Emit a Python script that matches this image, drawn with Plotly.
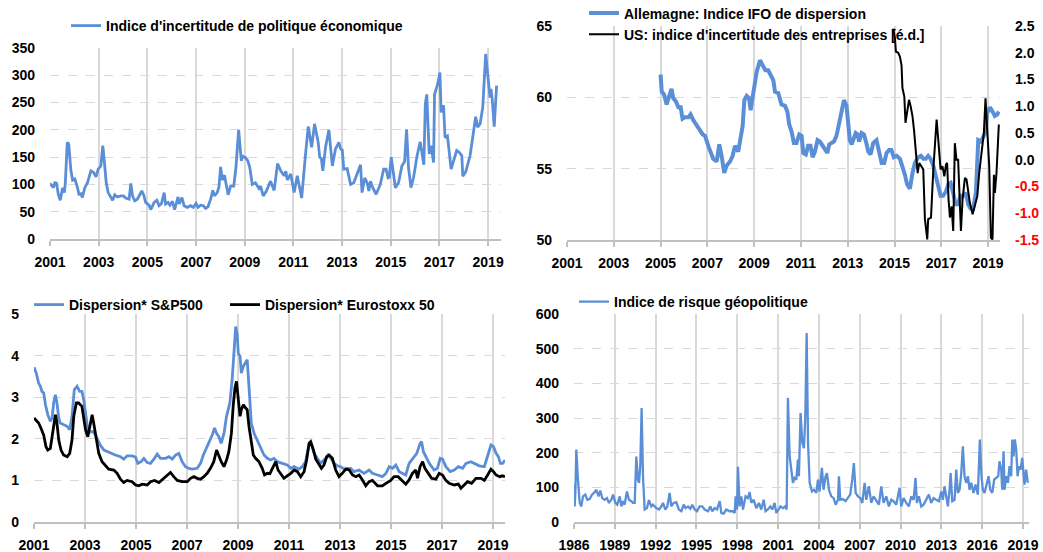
import plotly.graph_objects as go

# ---------------- data ----------------
# Panel 1: Indice d'incertitude de politique économique
epu_year = [2001.00, 2001.07, 2001.14, 2001.20, 2001.27, 2001.34, 2001.42, 2001.52, 2001.59, 2001.63,
            2001.71, 2001.77, 2001.86, 2001.93, 2002.02, 2002.13, 2002.19, 2002.27, 2002.33, 2002.43,
            2002.54, 2002.68, 2002.79, 2002.89, 2002.98, 2003.09, 2003.17, 2003.23, 2003.31, 2003.39,
            2003.50, 2003.57, 2003.66, 2003.77, 2003.91, 2004.02, 2004.11, 2004.25, 2004.32, 2004.39,
            2004.48, 2004.59, 2004.77, 2004.84, 2004.93, 2005.07, 2005.14, 2005.28, 2005.39, 2005.48,
            2005.58, 2005.69, 2005.75, 2005.85, 2005.93, 2006.03, 2006.12, 2006.26, 2006.31, 2006.42,
            2006.51, 2006.64, 2006.78, 2006.89, 2007.00, 2007.08, 2007.19, 2007.30, 2007.39, 2007.49,
            2007.60, 2007.69, 2007.76, 2007.87, 2007.94, 2008.01, 2008.08, 2008.17, 2008.24, 2008.32,
            2008.42, 2008.55, 2008.64, 2008.75, 2008.86, 2008.91, 2009.03, 2009.13, 2009.21, 2009.31,
            2009.44, 2009.58, 2009.65, 2009.76, 2009.89, 2010.06, 2010.21, 2010.35, 2010.48, 2010.62,
            2010.69, 2010.75, 2010.89, 2011.03, 2011.16, 2011.34, 2011.50, 2011.61, 2011.75, 2011.87,
            2012.02, 2012.08, 2012.15, 2012.21, 2012.32, 2012.46, 2012.60, 2012.73, 2012.87, 2012.94,
            2013.01, 2013.07, 2013.21, 2013.35, 2013.48, 2013.62, 2013.76, 2013.82, 2013.93, 2014.03,
            2014.10, 2014.17, 2014.26, 2014.40, 2014.57, 2014.71, 2014.81, 2014.89, 2014.94, 2015.02,
            2015.12, 2015.19, 2015.32, 2015.46, 2015.57, 2015.65, 2015.73, 2015.83, 2015.94, 2016.08,
            2016.21, 2016.31, 2016.36, 2016.42, 2016.48, 2016.58, 2016.66, 2016.76, 2016.80, 2016.93,
            2017.02, 2017.07, 2017.17, 2017.23, 2017.33, 2017.48, 2017.58, 2017.71, 2017.81, 2017.92,
            2017.96, 2018.08, 2018.26, 2018.39, 2018.49, 2018.57, 2018.67, 2018.78, 2018.90, 2019.01,
            2019.08, 2019.12, 2019.17, 2019.25, 2019.35]
epu_value = [102, 97, 94, 103, 102, 82, 71, 94, 85, 103,
             177, 174, 125, 108, 110, 94, 82, 83, 76, 94,
             103, 125, 122, 114, 128, 134, 171, 143, 103, 85,
             76, 71, 81, 77, 79, 79, 75, 73, 102, 79,
             70, 73, 88, 82, 67, 62, 54, 67, 71, 61,
             65, 85, 64, 67, 62, 69, 54, 77, 64, 76,
             61, 58, 61, 58, 65, 58, 62, 61, 56, 59,
             73, 89, 79, 85, 95, 132, 108, 117, 100, 81,
             97, 97, 131, 200, 143, 152, 149, 143, 131, 100,
             103, 93, 97, 79, 88, 106, 89, 138, 125, 116,
             124, 108, 119, 85, 116, 75, 156, 206, 168, 211,
             177, 150, 147, 125, 168, 200, 134, 165, 177, 165,
             163, 128, 129, 100, 103, 119, 136, 85, 112, 103,
             88, 106, 94, 82, 100, 128, 128, 112, 113, 150,
             113, 94, 103, 134, 142, 201, 131, 94, 113, 152,
             178, 147, 136, 247, 265, 156, 171, 140, 265, 284,
             305, 232, 245, 186, 189, 128, 144, 162, 159, 153,
             115, 123, 153, 192, 224, 205, 211, 241, 339, 290,
             259, 275, 256, 206, 281]

# Panel 2: Allemagne IFO dispersion (axe gauche)
ifo_year = [2005.00, 2005.05, 2005.15, 2005.26, 2005.37, 2005.47, 2005.54, 2005.66, 2005.76, 2005.86,
            2005.94, 2006.04, 2006.19, 2006.28, 2006.40, 2006.54, 2006.68, 2006.80, 2006.90, 2007.04,
            2007.14, 2007.25, 2007.40, 2007.51, 2007.61, 2007.72, 2007.82, 2007.97, 2008.08, 2008.18,
            2008.32, 2008.42, 2008.51, 2008.58, 2008.68, 2008.78, 2008.85, 2008.93, 2009.03, 2009.11,
            2009.25, 2009.36, 2009.48, 2009.60, 2009.70, 2009.82, 2009.89, 2010.03, 2010.17, 2010.32,
            2010.42, 2010.50, 2010.60, 2010.70, 2010.81, 2010.93, 2011.03, 2011.10, 2011.21, 2011.31,
            2011.41, 2011.50, 2011.60, 2011.71, 2011.81, 2011.93, 2012.03, 2012.13, 2012.21, 2012.31,
            2012.41, 2012.52, 2012.64, 2012.74, 2012.84, 2012.95, 2013.02, 2013.09, 2013.17, 2013.24,
            2013.34, 2013.42, 2013.49, 2013.59, 2013.69, 2013.78, 2013.88, 2013.98, 2014.09, 2014.23,
            2014.35, 2014.45, 2014.56, 2014.66, 2014.77, 2014.87, 2014.97, 2015.09, 2015.23, 2015.34,
            2015.44, 2015.54, 2015.66, 2015.77, 2015.87, 2016.01, 2016.13, 2016.23, 2016.34, 2016.44,
            2016.54, 2016.66, 2016.77, 2016.87, 2016.97, 2017.08, 2017.20, 2017.30, 2017.40, 2017.51,
            2017.61, 2017.72, 2017.82, 2017.94, 2018.05, 2018.15, 2018.25, 2018.36, 2018.48, 2018.58,
            2018.68, 2018.79, 2018.89, 2018.96, 2019.08, 2019.19, 2019.29, 2019.39, 2019.46]
ifo_value = [61.6, 60.4, 60.2, 59.5, 60.1, 60.6, 59.95, 59.7, 59.3, 59.3,
             58.5, 58.6, 58.6, 58.8, 58.4, 58.0, 57.7, 57.4, 57.3, 56.6,
             56.2, 55.7, 55.5, 56.7, 55.9, 54.7, 55.2, 55.5, 55.9, 56.6,
             56.2, 57.0, 58.0, 59.8, 60.1, 59.95, 59.1, 59.95, 60.8, 61.8,
             62.6, 62.3, 61.9, 61.9, 61.6, 61.2, 60.4, 60.3, 59.5, 59.4,
             59.0, 58.1, 57.6, 56.8, 56.8, 57.4, 57.3, 56.1, 56.0, 56.6,
             56.6, 55.8, 56.2, 57.0, 56.9, 56.6, 56.3, 56.1, 56.7, 56.8,
             56.9, 57.3, 58.2, 59.0, 59.8, 59.4, 58.2, 57.0, 56.7, 57.0,
             57.5, 57.4, 56.9, 57.5, 57.4, 56.9, 56.2, 56.0, 56.8, 57.0,
             56.2, 55.4, 55.4, 56.1, 56.3, 56.3, 55.8, 55.9, 55.7, 55.2,
             54.6, 53.9, 53.6, 54.7, 55.4, 55.8, 55.9, 55.7, 55.7, 55.9,
             55.7, 55.2, 54.5, 53.8, 53.1, 53.1, 53.4, 53.9, 54.0, 53.3,
             52.5, 52.5, 53.1, 53.1, 53.3, 52.5, 52.2, 52.2, 53.3, 57.0,
             56.9, 57.2, 57.6, 58.9, 59.3, 59.0, 58.7, 58.8, 59.0]

# Panel 2: US indice d'incertitude des entreprises (axe droit)
us_year = [2014.95, 2015.02, 2015.06, 2015.16, 2015.23, 2015.30, 2015.34, 2015.42, 2015.47, 2015.54,
           2015.62, 2015.69, 2015.77, 2015.84, 2015.91, 2015.99, 2016.06, 2016.13, 2016.23, 2016.30,
           2016.40, 2016.44, 2016.56, 2016.66, 2016.73, 2016.80, 2016.87, 2016.97, 2017.05, 2017.13,
           2017.20, 2017.25, 2017.31, 2017.37, 2017.44, 2017.51, 2017.58, 2017.65, 2017.72, 2017.77,
           2017.84, 2017.91, 2018.01, 2018.08, 2018.22, 2018.34, 2018.44, 2018.54, 2018.62, 2018.72,
           2018.82, 2018.89, 2018.96, 2019.05, 2019.12, 2019.19, 2019.25, 2019.29, 2019.36, 2019.46]
us_value = [2.45, 2.27, 2.02, 2.0, 1.93, 1.77, 1.34, 1.18, 0.69, 0.87,
            1.12, 1.0, 0.81, 0.53, 0.19, -0.25, -0.06, -0.12, -0.18, -1.11,
            -1.49, -1.11, -1.08, -0.18, 0.31, 0.75, 0.38, -0.18, -0.12, -0.31,
            -0.09, -0.06, -0.74, -1.08, -0.87, -1.33, 0.31, 0.0, 0.0, -0.56,
            -1.33, -0.74, -0.34, -0.37, -0.80, -1.02, -0.87, -0.68, -0.25, 0.19,
            0.5, 1.15, 0.56, -0.12, -1.46, -1.49, -0.28, -0.62, -0.25, 0.66]

# Panel 3: Dispersion* S&P500
sp_year = [2001.00, 2001.09, 2001.18, 2001.25, 2001.31, 2001.38, 2001.45, 2001.54, 2001.64, 2001.71,
           2001.77, 2001.84, 2001.90, 2001.97, 2002.03, 2002.16, 2002.30, 2002.40, 2002.49, 2002.58,
           2002.69, 2002.79, 2002.88, 2002.95, 2003.02, 2003.11, 2003.21, 2003.32, 2003.41, 2003.50,
           2003.60, 2003.74, 2003.87, 2004.00, 2004.19, 2004.39, 2004.52, 2004.65, 2004.85, 2004.98,
           2005.07, 2005.20, 2005.31, 2005.44, 2005.57, 2005.70, 2005.83, 2005.96, 2006.16, 2006.29,
           2006.42, 2006.55, 2006.68, 2006.81, 2006.94, 2007.07, 2007.20, 2007.40, 2007.53, 2007.64,
           2007.73, 2007.86, 2007.99, 2008.08, 2008.16, 2008.25, 2008.34, 2008.45, 2008.55, 2008.68,
           2008.77, 2008.84, 2008.91, 2008.97, 2009.01, 2009.08, 2009.13, 2009.21, 2009.30, 2009.36,
           2009.43, 2009.52, 2009.63, 2009.76, 2009.89, 2010.02, 2010.15, 2010.28, 2010.41, 2010.54,
           2010.74, 2010.93, 2011.07, 2011.20, 2011.39, 2011.52, 2011.65, 2011.79, 2011.85, 2011.98,
           2012.11, 2012.24, 2012.44, 2012.53, 2012.64, 2012.77, 2012.90, 2013.03, 2013.16, 2013.29,
           2013.42, 2013.55, 2013.75, 2013.94, 2014.14, 2014.27, 2014.47, 2014.66, 2014.80, 2014.93,
           2015.06, 2015.19, 2015.32, 2015.45, 2015.58, 2015.71, 2015.84, 2016.01, 2016.14, 2016.20,
           2016.27, 2016.37, 2016.50, 2016.69, 2016.82, 2016.93, 2017.02, 2017.15, 2017.32, 2017.48,
           2017.64, 2017.81, 2017.94, 2018.13, 2018.26, 2018.46, 2018.66, 2018.79, 2018.92, 2019.02,
           2019.12, 2019.21, 2019.29, 2019.38, 2019.47]
sp_value = [3.72, 3.58, 3.34, 3.26, 3.14, 3.10, 2.82, 2.58, 2.42, 2.50,
            2.86, 3.06, 2.86, 2.50, 2.38, 2.34, 2.30, 2.22, 2.54, 3.18,
            3.26, 3.14, 3.14, 2.94, 2.58, 2.22, 2.17, 2.17, 2.09, 1.97,
            1.85, 1.73, 1.69, 1.65, 1.61, 1.57, 1.51, 1.59, 1.59, 1.56,
            1.41, 1.45, 1.53, 1.43, 1.41, 1.51, 1.63, 1.53, 1.53, 1.57,
            1.51, 1.61, 1.65, 1.45, 1.33, 1.29, 1.27, 1.29, 1.41, 1.61,
            1.73, 1.89, 2.09, 2.26, 2.13, 2.05, 1.89, 2.13, 2.54, 2.86,
            3.42, 4.06, 4.70, 4.50, 4.06, 3.98, 3.58, 3.74, 3.86, 3.90,
            3.26, 2.38, 2.13, 1.97, 1.77, 1.61, 1.53, 1.49, 1.53, 1.45,
            1.41, 1.37, 1.29, 1.33, 1.27, 1.33, 1.45, 1.89, 1.93, 1.65,
            1.53, 1.41, 1.53, 1.61, 1.53, 1.41, 1.35, 1.33, 1.27, 1.29,
            1.29, 1.21, 1.25, 1.17, 1.25, 1.17, 1.13, 1.09, 1.17, 1.33,
            1.29, 1.37, 1.21, 1.17, 1.13, 1.41, 1.51, 1.65, 1.89, 1.93,
            1.69, 1.57, 1.41, 1.25, 1.29, 1.53, 1.51, 1.33, 1.21, 1.25,
            1.33, 1.29, 1.41, 1.45, 1.41, 1.35, 1.33, 1.57, 1.85, 1.81,
            1.65, 1.57, 1.41, 1.41, 1.49]

# Panel 3: Dispersion* Eurostoxx 50
es_year = [2001.00, 2001.09, 2001.18, 2001.27, 2001.38, 2001.47, 2001.54, 2001.64, 2001.71, 2001.77,
           2001.84, 2001.90, 2001.97, 2002.06, 2002.16, 2002.30, 2002.40, 2002.49, 2002.56, 2002.66,
           2002.75, 2002.88, 2002.95, 2003.02, 2003.11, 2003.19, 2003.28, 2003.34, 2003.43, 2003.54,
           2003.67, 2003.80, 2003.93, 2004.13, 2004.26, 2004.39, 2004.52, 2004.65, 2004.85, 2004.98,
           2005.11, 2005.24, 2005.44, 2005.57, 2005.73, 2005.90, 2006.09, 2006.22, 2006.35, 2006.48,
           2006.62, 2006.81, 2007.01, 2007.14, 2007.27, 2007.40, 2007.53, 2007.66, 2007.79, 2007.92,
           2008.05, 2008.16, 2008.25, 2008.34, 2008.45, 2008.55, 2008.64, 2008.74, 2008.81, 2008.88,
           2008.94, 2009.00, 2009.08, 2009.13, 2009.21, 2009.30, 2009.36, 2009.43, 2009.52, 2009.60,
           2009.69, 2009.82, 2009.95, 2010.04, 2010.15, 2010.25, 2010.35, 2010.48, 2010.57, 2010.67,
           2010.80, 2010.93, 2011.07, 2011.20, 2011.33, 2011.46, 2011.59, 2011.69, 2011.79, 2011.85,
           2011.96, 2012.05, 2012.18, 2012.27, 2012.37, 2012.48, 2012.57, 2012.70, 2012.83, 2012.96,
           2013.09, 2013.23, 2013.36, 2013.49, 2013.62, 2013.75, 2013.88, 2014.01, 2014.14, 2014.27,
           2014.47, 2014.66, 2014.80, 2014.99, 2015.12, 2015.28, 2015.41, 2015.58, 2015.71, 2015.84,
           2015.97, 2016.04, 2016.14, 2016.24, 2016.33, 2016.46, 2016.59, 2016.76, 2016.89, 2017.02,
           2017.15, 2017.28, 2017.48, 2017.64, 2017.74, 2017.87, 2018.00, 2018.16, 2018.33, 2018.53,
           2018.66, 2018.79, 2018.92, 2019.02, 2019.12, 2019.26, 2019.37, 2019.47]
es_value = [2.50, 2.44, 2.38, 2.26, 2.09, 1.81, 1.73, 1.77, 2.05, 2.38,
            2.58, 2.38, 1.97, 1.73, 1.61, 1.57, 1.65, 1.97, 2.54, 2.86,
            2.86, 2.78, 2.54, 2.22, 2.05, 2.34, 2.58, 2.38, 2.05, 1.65,
            1.45, 1.37, 1.27, 1.25, 1.17, 1.03, 0.95, 1.00, 0.97, 0.89,
            0.87, 0.91, 0.89, 0.97, 1.00, 0.95, 1.05, 1.11, 1.19, 1.09,
            1.00, 0.97, 0.97, 1.05, 1.09, 1.05, 1.03, 1.09, 1.17, 1.29,
            1.45, 1.73, 1.57, 1.45, 1.33, 1.49, 1.69, 2.13, 2.78, 3.22,
            3.38, 3.06, 2.54, 2.70, 2.82, 2.74, 2.70, 2.30, 1.97, 1.61,
            1.53, 1.45, 1.29, 1.13, 1.17, 1.16, 1.29, 1.45, 1.25, 1.17,
            1.05, 1.11, 1.17, 1.25, 1.21, 1.09, 1.21, 1.49, 1.89, 1.93,
            1.73, 1.51, 1.37, 1.29, 1.37, 1.57, 1.61, 1.53, 1.25, 1.09,
            1.17, 1.27, 1.25, 1.13, 1.09, 1.13, 1.01, 0.87, 0.97, 1.00,
            0.87, 0.87, 0.93, 1.00, 1.09, 1.09, 1.01, 0.91, 1.01, 1.17,
            1.25, 1.05, 1.33, 1.45, 1.29, 1.17, 1.05, 1.03, 1.17, 1.13,
            1.00, 0.93, 0.89, 0.91, 0.81, 0.89, 0.97, 0.93, 1.05, 1.05,
            1.00, 1.13, 1.27, 1.21, 1.13, 1.09, 1.11, 1.09]

# Panel 4: Indice de risque géopolitique
gpr_year = [1986.00, 1986.05, 1986.10, 1986.17, 1986.29, 1986.42, 1986.54, 1986.66, 1986.83, 1986.98,
            1987.15, 1987.32, 1987.52, 1987.64, 1987.81, 1987.93, 1988.08, 1988.25, 1988.42, 1988.57,
            1988.74, 1988.87, 1989.04, 1989.18, 1989.36, 1989.48, 1989.60, 1989.72, 1989.89, 1990.04,
            1990.21, 1990.34, 1990.46, 1990.58, 1990.70, 1990.78, 1990.87, 1990.97, 1991.07, 1991.19,
            1991.36, 1991.51, 1991.68, 1991.80, 1992.05, 1992.25, 1992.42, 1992.54, 1992.71, 1992.86,
            1993.03, 1993.15, 1993.32, 1993.52, 1993.71, 1993.89, 1994.06, 1994.20, 1994.38, 1994.55,
            1994.69, 1994.87, 1995.04, 1995.23, 1995.43, 1995.60, 1995.85, 1996.02, 1996.16, 1996.34,
            1996.51, 1996.71, 1996.83, 1997.00, 1997.19, 1997.44, 1997.68, 1997.81, 1997.88, 1997.98,
            1998.05, 1998.17, 1998.30, 1998.42, 1998.61, 1998.78, 1998.91, 1999.03, 1999.20, 1999.40,
            1999.59, 1999.76, 1999.94, 2000.08, 2000.25, 2000.43, 2000.57, 2000.74, 2000.87, 2001.04,
            2001.18, 2001.36, 2001.53, 2001.63, 2001.72, 2001.85, 2001.97, 2002.09, 2002.21, 2002.34,
            2002.46, 2002.53, 2002.65, 2002.78, 2002.90, 2003.00, 2003.10, 2003.20, 2003.32, 2003.49,
            2003.63, 2003.81, 2003.93, 2004.05, 2004.22, 2004.34, 2004.49, 2004.59, 2004.74, 2004.91,
            2005.08, 2005.23, 2005.40, 2005.47, 2005.57, 2005.76, 2005.96, 2006.13, 2006.30, 2006.45,
            2006.57, 2006.70, 2006.87, 2007.04, 2007.19, 2007.36, 2007.48, 2007.67, 2007.85, 2008.02,
            2008.21, 2008.41, 2008.58, 2008.75, 2008.95, 2009.14, 2009.32, 2009.49, 2009.68, 2009.93,
            2010.05, 2010.22, 2010.42, 2010.61, 2010.79, 2010.96, 2011.10, 2011.20, 2011.35, 2011.52,
            2011.69, 2011.89, 2012.08, 2012.25, 2012.43, 2012.62, 2012.82, 2012.99, 2013.11, 2013.23,
            2013.36, 2013.48, 2013.60, 2013.68, 2013.80, 2013.97, 2014.09, 2014.21, 2014.34, 2014.46,
            2014.58, 2014.70, 2014.83, 2014.95, 2015.07, 2015.19, 2015.36, 2015.51, 2015.68, 2015.83,
            2015.95, 2016.05, 2016.17, 2016.30, 2016.47, 2016.59, 2016.74, 2016.88, 2017.03, 2017.18,
            2017.27, 2017.40, 2017.47, 2017.57, 2017.64, 2017.77, 2017.89, 2018.01, 2018.13, 2018.21,
            2018.30, 2018.40, 2018.50, 2018.60, 2018.70, 2018.82, 2018.94, 2019.04, 2019.11, 2019.23,
            2019.35]
gpr_value = [108, 45, 84, 209, 122, 55, 45, 74, 79, 64,
             66, 79, 86, 93, 74, 91, 69, 64, 69, 55,
             64, 79, 55, 50, 74, 45, 60, 50, 88, 64,
             60, 55, 55, 189, 122, 113, 161, 329, 132, 36,
             40, 63, 45, 50, 40, 36, 45, 55, 36, 45,
             84, 45, 55, 57, 36, 31, 50, 40, 45, 38,
             50, 36, 31, 45, 45, 36, 31, 45, 31, 40,
             36, 60, 26, 24, 36, 31, 31, 26, 74, 36,
             159, 45, 74, 36, 74, 69, 86, 55, 64, 40,
             55, 36, 64, 31, 36, 45, 36, 55, 26, 36,
             45, 40, 45, 36, 358, 189, 141, 113, 127, 122,
             180, 132, 314, 228, 213, 305, 545, 228, 113, 88,
             93, 84, 122, 88, 156, 93, 132, 141, 93, 74,
             69, 50, 64, 132, 64, 66, 60, 69, 79, 122,
             170, 84, 74, 69, 55, 113, 64, 103, 55, 74,
             64, 50, 103, 55, 74, 45, 64, 60, 50, 98,
             45, 69, 55, 45, 74, 64, 127, 55, 74, 45,
             50, 64, 79, 55, 69, 64, 60, 88, 64, 103,
             69, 45, 93, 141, 60, 64, 151, 84, 93, 141,
             218, 132, 113, 132, 93, 113, 84, 108, 79, 238,
             132, 93, 84, 103, 132, 93, 84, 122, 127, 132,
             175, 151, 93, 204, 93, 132, 113, 161, 132, 238,
             189, 238, 209, 132, 161, 151, 185, 132, 108, 151,
             113]

# tick labels
odd_years = list(range(2001, 2020, 2))
gpr_years_ticks = list(range(1986, 2020, 3))
epu_ticks = [0, 50, 100, 150, 200, 250, 300, 350]
ifo_ticks = [50, 55, 60, 65]
us_ticks = [-1.5, -1.0, -0.5, 0.0, 0.5, 1.0, 1.5, 2.0, 2.5]
disp_ticks = [0, 1, 2, 3, 4, 5]
gpr_ticks = [0, 100, 200, 300, 400, 500, 600]

# ---------------- style ----------------
W, H = 1043, 552
BLUE = "#5A8ED6"
GRID = "#d9d9d9"
AXL = "#c0c0c0"
FONT = "Liberation Sans, Arial, sans-serif"
TF = dict(family=FONT, size=14, color="black", weight="bold")
LF = dict(family=FONT, size=14, color="black", weight="bold")


def px_x(p):
    return p / W


def px_y(p):
    return 1 - p / H


def xaxis(dom_px, anchor, rng, vals):
    return dict(domain=[px_x(dom_px[0]), px_x(dom_px[1])], anchor=anchor, range=rng,
                tickmode="array", tickvals=vals, ticktext=[str(v) for v in vals],
                showgrid=True, gridcolor=GRID, gridwidth=1.5,
                showline=True, linecolor=AXL, linewidth=1.5,
                ticks="outside", ticklen=5, tickcolor=AXL, tickwidth=1.5,
                tickfont=TF, zeroline=False, ticklabelstandoff=4,
                automargin=False, fixedrange=True)


def yaxis(dom_px, anchor, rng, vals, text=None):
    return dict(domain=[px_y(dom_px[1]), px_y(dom_px[0])], anchor=anchor, range=rng,
                tickmode="array", tickvals=vals, ticktext=text if text else [str(v) for v in vals],
                showgrid=True, gridcolor=GRID, griddash="dash", gridwidth=1,
                showline=False, ticks="", tickfont=TF, zeroline=False,
                ticklabelstandoff=14, automargin=False, fixedrange=True)


fig = go.Figure()

fig.add_trace(go.Scatter(x=epu_year, y=epu_value, mode="lines", xaxis="x", yaxis="y",
                         line=dict(color=BLUE, width=2.8),
                         name="Indice d'incertitude de politique économique", legend="legend"))
fig.add_trace(go.Scatter(x=ifo_year, y=ifo_value, mode="lines", xaxis="x2", yaxis="y2",
                         line=dict(color=BLUE, width=4),
                         name="Allemagne: Indice IFO de dispersion", legend="legend2"))
fig.add_trace(go.Scatter(x=us_year, y=us_value, mode="lines", xaxis="x2", yaxis="y3",
                         line=dict(color="black", width=2),
                         name="US: indice d'incertitude des entreprises [é.d.]", legend="legend2"))
fig.add_trace(go.Scatter(x=sp_year, y=sp_value, mode="lines", xaxis="x3", yaxis="y4",
                         line=dict(color=BLUE, width=2.8),
                         name="Dispersion* S&P500", legend="legend3"))
fig.add_trace(go.Scatter(x=es_year, y=es_value, mode="lines", xaxis="x3", yaxis="y4",
                         line=dict(color="black", width=2.8),
                         name="Dispersion* Eurostoxx 50", legend="legend4"))
fig.add_trace(go.Scatter(x=gpr_year, y=gpr_value, mode="lines", xaxis="x4", yaxis="y5",
                         line=dict(color=BLUE, width=2.3),
                         name="Indice de risque géopolitique", legend="legend5"))

us_text = []
for v in us_ticks:
    s = f"{v:.1f}"
    if v < 0:
        s = f'<span style="color:#ff0000">{s}</span>'
    us_text.append(s)


def leg(xp, yp):
    return dict(x=px_x(xp), y=px_y(yp), xanchor="left", yanchor="middle",
                bgcolor="rgba(0,0,0,0)", font=LF, borderwidth=0,
                tracegroupgap=0, itemclick=False, itemdoubleclick=False)


fig.update_layout(
    width=W, height=H,
    margin=dict(l=0, r=0, t=0, b=0, autoexpand=False),
    paper_bgcolor="white", plot_bgcolor="white",
    font=dict(family=FONT, size=14, color="black"),
    xaxis=xaxis((50, 501), "y", [2001, 2019.53], odd_years),
    yaxis=yaxis((48, 239), "x", [0, 350], epu_ticks),
    xaxis2=xaxis((567, 1000), "y2", [2001, 2019.51], odd_years),
    yaxis2=yaxis((26, 240), "x2", [50, 65], ifo_ticks),
    yaxis3=dict(overlaying="y2", side="right", anchor="x2", range=[-1.5, 2.5],
                tickmode="array", tickvals=us_ticks, ticktext=us_text,
                showgrid=False, zeroline=False, showline=False, ticks="",
                tickfont=TF, ticklabelstandoff=14, automargin=False, fixedrange=True),
    xaxis3=xaxis((34, 505), "y4", [2001, 2019.47], odd_years),
    yaxis4=yaxis((314, 522), "x3", [0, 5], disp_ticks),
    xaxis4=xaxis((574, 1029), "y5", [1986, 2019.44], gpr_years_ticks),
    yaxis5=yaxis((314, 522), "x4", [0, 600], gpr_ticks),
    legend=leg(66, 26),
    legend2=leg(584, 24),
    legend3=leg(29, 305),
    legend4=leg(225, 305),
    legend5=leg(574, 302),
    showlegend=True,
)

fig.write_html(
    "out.html",
    config=dict(displayModeBar=False),
    post_script="document.body.style.margin='0';document.body.style.overflow='hidden';",
)
